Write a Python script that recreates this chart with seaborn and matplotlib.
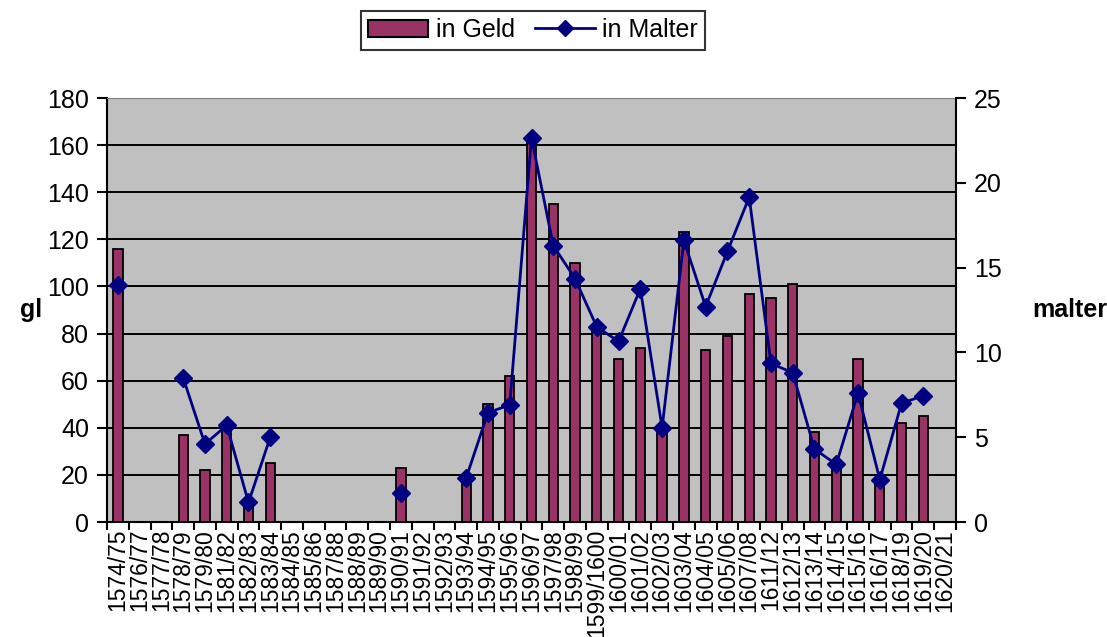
import numpy as np
import pandas as pd
import matplotlib
matplotlib.use("Agg")
import matplotlib.pyplot as plt
from matplotlib.patches import Patch
from matplotlib.lines import Line2D
import seaborn as sns

nan = np.nan

years = ["1574/75", "1576/77", "1577/78", "1578/79", "1579/80", "1581/82", "1582/83",
         "1583/84", "1584/85", "1585/86", "1587/88", "1588/89", "1589/90", "1590/91",
         "1591/92", "1592/93", "1593/94", "1594/95", "1595/96", "1596/97", "1597/98",
         "1598/99", "1599/1600", "1600/01", "1601/02", "1602/03", "1603/04", "1604/05",
         "1605/06", "1607/08", "1611/12", "1612/13", "1613/14", "1614/15", "1615/16",
         "1616/17", "1618/19", "1619/20", "1620/21"]

# gl (in Geld)
geld = [116, nan, nan, 37, 22, 41, 8, 25, nan, nan, nan, nan, nan, 23, nan, nan, 16, 50,
        62, 161, 135, 110, 83, 69, 74, 40, 123, 73, 79, 97, 95, 101, 38, 23, 69, 17, 42,
        45, nan]

# malter (in Malter)
malter = [14.0, nan, nan, 8.5, 4.6, 5.7, 1.15, 5.0, nan, nan, nan, nan, nan, 1.7, nan,
          nan, 2.6, 6.45, 6.9, 22.65, 16.3, 14.35, 11.5, 10.65, 13.75, 5.55, 16.6, 12.7,
          15.95, 19.15, 9.35, 8.8, 4.3, 3.4, 7.6, 2.5, 7.0, 7.45, nan]

bar_color = "#993366"
line_color = "#000080"

plt.rcParams["font.family"] = ["Liberation Sans", "DejaVu Sans"]

df = pd.DataFrame({"jahr": years, "geld": geld, "malter": malter})

fig = plt.figure(figsize=(11.07, 6.37), dpi=100)
ax = fig.add_axes([107 / 1107, 1 - 522 / 637, (956 - 107) / 1107, (522 - 98) / 637])
ax.set_facecolor("#C0C0C0")

sns.barplot(data=df, x="jahr", y="geld", order=years, color=bar_color, saturation=1,
            edgecolor="black", linewidth=1.3, width=0.43, errorbar=None, ax=ax, zorder=3)
ax.set_xlim(-0.5, len(years) - 0.5)
ax.set_ylim(0, 180)
ax.set_yticks(range(0, 181, 20))
ax.grid(axis="y", color="black", linewidth=1.4, zorder=0)
ax.set_axisbelow(True)

# category ticks sit between the bars, labels in the middle
ax.set_xticks(np.arange(len(years)))
ax.set_xticklabels(years, rotation=90, fontsize=16.5)
ax.set_xticks(np.arange(len(years) + 1) - 0.5, minor=True)
ax.tick_params(axis="x", which="major", length=0, pad=5)
ax.tick_params(axis="x", which="minor", length=6, width=1.5, color="black")
ax.tick_params(axis="y", labelsize=18, length=7, width=1.5, pad=6)
ax.set_xlabel("")
ax.set_ylabel("gl", rotation=0, fontsize=18, fontweight="bold", va="center", ha="center")
ax.yaxis.set_label_coords(-0.09, 0.5)

for side in ["left", "bottom"]:
  ax.spines[side].set_linewidth(1.5)
  ax.spines[side].set_color("black")
ax.spines["top"].set_color("#808080")
ax.spines["right"].set_visible(False)

ax2 = ax.twinx()
ax2.plot(np.arange(len(years)), malter, color=line_color, linewidth=2, marker="D",
         markersize=9.5, markerfacecolor=line_color, markeredgecolor=line_color, zorder=4)
ax2.set_ylim(0, 25)
ax2.set_yticks(range(0, 26, 5))
ax2.tick_params(axis="y", labelsize=18, length=7, width=1.5, pad=6)
ax2.set_ylabel("malter", rotation=0, fontsize=18, fontweight="bold", va="center", ha="center")
ax2.yaxis.set_label_coords(1.134, 0.5)
ax2.spines["right"].set_linewidth(1.5)
ax2.spines["right"].set_color("black")
for side in ["left", "bottom", "top"]:
  ax2.spines[side].set_visible(False)

handles = [Patch(facecolor=bar_color, edgecolor="black", linewidth=1.5),
           Line2D([], [], color=line_color, linewidth=2, marker="D", markersize=8)]
leg = fig.legend(handles, ["in Geld", "in Malter"], loc="center",
                 bbox_to_anchor=(533 / 1107, 1 - 30 / 637), ncol=2, fontsize=18,
                 frameon=True, fancybox=False, edgecolor="black", handlelength=2.4,
                 handletextpad=0.3, columnspacing=0.8, borderpad=0.3)
leg.get_frame().set_linewidth(1.5)

fig.savefig("out.png", dpi=100)
